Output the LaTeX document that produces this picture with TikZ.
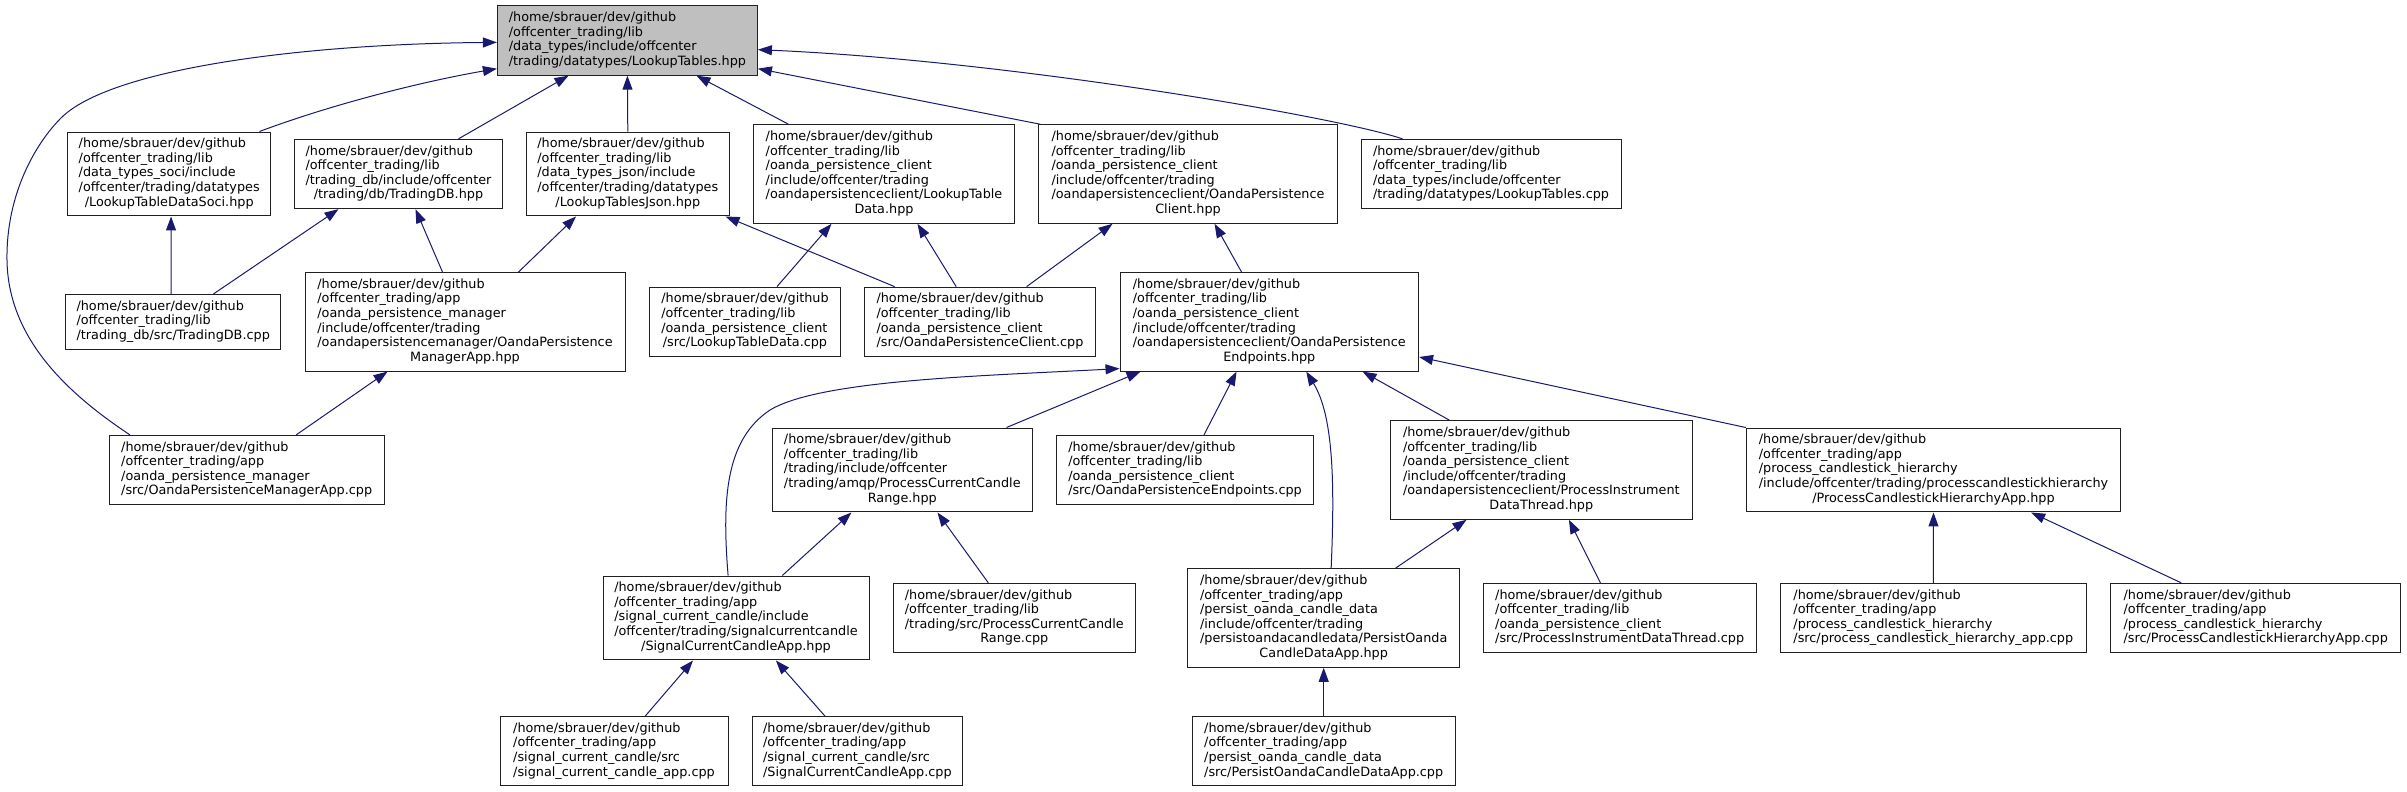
\documentclass[tikz,border=0pt]{standalone}
\usepackage{fontspec}
\setmainfont{DejaVu Sans}
\usetikzlibrary{arrows.meta}
\definecolor{edgeblue}{HTML}{191970}
\definecolor{rootgray}{HTML}{BFBFBF}
\definecolor{boxline}{HTML}{202020}
\newcommand{\ftxt}[2]{\begin{tabular}{@{}l@{}}#1\\\multicolumn{1}{@{}c@{}}{#2}\end{tabular}}
\tikzset{
  box/.style={draw=boxline, line width=1pt, fill=white, inner xsep=4pt, inner ysep=5.475pt,
    font=\fontsize{12.8}{14.6}\selectfont},
  rootbox/.style={box, fill=rootgray},
  edge/.style={draw=edgeblue, line width=1pt, -{Triangle[length=14pt,width=10pt]}}
}
\begin{document}
\begin{tikzpicture}[x=1pt,y=1pt]
\useasboundingbox (0,0) rectangle (2407,-792);
% rank 0
\node[rootbox, minimum width=260pt] (root) at (627.4,-40.5) {\ftxt{/home/sbrauer/dev/github\\/offcenter\_trading/lib\\/data\_types/include/offcenter}{/trading/datatypes/LookupTables.hpp}};
% rank 1
\node[box, minimum width=202.5pt] (A) at (169.2,-174) {\ftxt{/home/sbrauer/dev/github\\/offcenter\_trading/lib\\/data\_types\_soci/include\\/offcenter/trading/datatypes}{/LookupTableDataSoci.hpp}};
\node[box, minimum width=208.2pt] (B) at (398.5,-174) {\ftxt{/home/sbrauer/dev/github\\/offcenter\_trading/lib\\/trading\_db/include/offcenter}{/trading/db/TradingDB.hpp}};
\node[box, minimum width=202.5pt] (C) at (627.8,-174) {\ftxt{/home/sbrauer/dev/github\\/offcenter\_trading/lib\\/data\_types\_json/include\\/offcenter/trading/datatypes}{/LookupTablesJson.hpp}};
\node[box, minimum width=261.2pt] (D) at (884,-174) {\ftxt{/home/sbrauer/dev/github\\/offcenter\_trading/lib\\/oanda\_persistence\_client\\/include/offcenter/trading\\/oandapersistenceclient/LookupTable}{Data.hpp}};
\node[box, minimum width=298.5pt] (E) at (1188,-174) {\ftxt{/home/sbrauer/dev/github\\/offcenter\_trading/lib\\/oanda\_persistence\_client\\/include/offcenter/trading\\/oandapersistenceclient/OandaPersistence}{Client.hpp}};
\node[box, minimum width=260pt] (F) at (1491,-174) {\ftxt{/home/sbrauer/dev/github\\/offcenter\_trading/lib\\/data\_types/include/offcenter}{/trading/datatypes/LookupTables.cpp}};
% rank 2
\node[box, minimum width=214.8pt] (G) at (173.2,-321.8) {\ftxt{/home/sbrauer/dev/github\\/offcenter\_trading/lib}{/trading\_db/src/TradingDB.cpp}};
\node[box, minimum width=320pt] (H) at (465,-321.8) {\ftxt{/home/sbrauer/dev/github\\/offcenter\_trading/app\\/oanda\_persistence\_manager\\/include/offcenter/trading\\/oandapersistencemanager/OandaPersistence}{ManagerApp.hpp}};
\node[box, minimum width=191.1pt] (I) at (745,-321.8) {\ftxt{/home/sbrauer/dev/github\\/offcenter\_trading/lib\\/oanda\_persistence\_client}{/src/LookupTableData.cpp}};
\node[box, minimum width=230.2pt] (J) at (980,-321.8) {\ftxt{/home/sbrauer/dev/github\\/offcenter\_trading/lib\\/oanda\_persistence\_client}{/src/OandaPersistenceClient.cpp}};
\node[box, minimum width=298.5pt] (K) at (1269.3,-321.8) {\ftxt{/home/sbrauer/dev/github\\/offcenter\_trading/lib\\/oanda\_persistence\_client\\/include/offcenter/trading\\/oandapersistenceclient/OandaPersistence}{Endpoints.hpp}};
% rank 3
\node[box, minimum width=274.7pt] (L) at (246.7,-470) {\ftxt{/home/sbrauer/dev/github\\/offcenter\_trading/app\\/oanda\_persistence\_manager}{/src/OandaPersistenceManagerApp.cpp}};
\node[box, minimum width=260.1pt] (M) at (902.3,-470) {\ftxt{/home/sbrauer/dev/github\\/offcenter\_trading/lib\\/trading/include/offcenter\\/trading/amqp/ProcessCurrentCandle}{Range.hpp}};
\node[box, minimum width=257pt] (N) at (1185,-470) {\ftxt{/home/sbrauer/dev/github\\/offcenter\_trading/lib\\/oanda\_persistence\_client}{/src/OandaPersistenceEndpoints.cpp}};
\node[box, minimum width=302.6pt] (O) at (1541.3,-470) {\ftxt{/home/sbrauer/dev/github\\/offcenter\_trading/lib\\/oanda\_persistence\_client\\/include/offcenter/trading\\/oandapersistenceclient/ProcessInstrument}{DataThread.hpp}};
\node[box, minimum width=374.3pt] (P) at (1933.5,-470) {\ftxt{/home/sbrauer/dev/github\\/offcenter\_trading/app\\/process\_candlestick\_hierarchy\\/include/offcenter/trading/processcandlestickhierarchy}{/ProcessCandlestickHierarchyApp.hpp}};
% rank 4
\node[box, minimum width=266pt] (Q) at (736,-618) {\ftxt{/home/sbrauer/dev/github\\/offcenter\_trading/app\\/signal\_current\_candle/include\\/offcenter/trading/signalcurrentcandle}{/SignalCurrentCandleApp.hpp}};
\node[box, minimum width=242.4pt] (R) at (1014.3,-618) {\ftxt{/home/sbrauer/dev/github\\/offcenter\_trading/lib\\/trading/src/ProcessCurrentCandle}{Range.cpp}};
\node[box, minimum width=271.9pt] (S) at (1323.7,-618) {\ftxt{/home/sbrauer/dev/github\\/offcenter\_trading/app\\/persist\_oanda\_candle\_data\\/include/offcenter/trading\\/persistoandacandledata/PersistOanda}{CandleDataApp.hpp}};
\node[box, minimum width=272.9pt] (T) at (1619.7,-618) {\ftxt{/home/sbrauer/dev/github\\/offcenter\_trading/lib\\/oanda\_persistence\_client}{/src/ProcessInstrumentDataThread.cpp}};
\node[box, minimum width=306.6pt] (U) at (1933.3,-618) {\ftxt{/home/sbrauer/dev/github\\/offcenter\_trading/app\\/process\_candlestick\_hierarchy}{/src/process\_candlestick\_hierarchy\_app.cpp}};
\node[box, minimum width=289.8pt] (V) at (2255.7,-618) {\ftxt{/home/sbrauer/dev/github\\/offcenter\_trading/app\\/process\_candlestick\_hierarchy}{/src/ProcessCandlestickHierarchyApp.cpp}};
% rank 5
\node[box, minimum width=228pt] (W) at (614,-751.3) {\ftxt{/home/sbrauer/dev/github\\/offcenter\_trading/app\\/signal\_current\_candle/src}{/signal\_current\_candle\_app.cpp}};
\node[box, minimum width=210.4pt] (X) at (857.4,-751.3) {\ftxt{/home/sbrauer/dev/github\\/offcenter\_trading/app\\/signal\_current\_candle/src}{/SignalCurrentCandleApp.cpp}};
\node[box, minimum width=262.7pt] (Y) at (1323.7,-751.3) {\ftxt{/home/sbrauer/dev/github\\/offcenter\_trading/app\\/persist\_oanda\_candle\_data}{/src/PersistOandaCandleDataApp.cpp}};
% edges
\draw[edge] ([xshift=192pt]A.north west) .. controls (330,-105) and (420,-82) .. ([yshift=7pt]root.south west);
\draw[edge] ([xshift=164.6pt]B.north west) -- ([xshift=71.6pt]root.south west);
\draw[edge] (C.north) -- (root.south);
\draw[edge] ([xshift=35.6pt]D.north west) -- ([xshift=199.6pt]root.south west);
\draw[edge] ([xshift=2pt]E.north west) -- ([yshift=7pt]root.south east);
\draw[edge] ([xshift=42pt]F.north west) .. controls (1330,-115) and (1000,-60) .. ([yshift=26pt]root.south east);
\draw[edge] ([xshift=21pt]L.north west) .. controls (70,-395) and (8,-340) .. (7,-260) .. controls (6,-195) and (35,-144) .. (61,-118) .. controls (110,-69) and (300,-44) .. ([yshift=33.3pt]root.south west);
\draw[edge] ([xshift=105.7pt]G.north west) -- ([xshift=103.6pt]A.south west);
\draw[edge] ([xshift=148.2pt]G.north west) -- ([xshift=44.6pt]B.south west);
\draw[edge] ([xshift=138pt]H.north west) -- ([xshift=121.6pt]B.south west);
\draw[edge] ([xshift=214pt]H.north west) -- ([xshift=50pt]C.south west);
\draw[edge] ([xshift=30.2pt]J.north west) -- ([xshift=-4pt]C.south east);
\draw[edge] ([xshift=128pt]I.north west) -- ([xshift=78.6pt]D.south west);
\draw[edge] ([xshift=91.8pt]J.north west) -- ([xshift=164.6pt]D.south west);
\draw[edge] ([xshift=162.2pt]J.north west) -- ([xshift=74.3pt]E.south west);
\draw[edge] ([xshift=122pt]K.north west) -- ([xshift=176.3pt]E.south west);
\draw[edge] ([xshift=187.4pt]L.north west) -- ([xshift=83pt]H.south west);
\draw[edge] ([xshift=125.6pt]Q.north west) .. controls (722,-500) and (725,-440) .. (770,-410) .. controls (820,-380) and (980,-376) .. ([yshift=3pt]K.south west);
\draw[edge] ([xshift=234.7pt]M.north west) -- ([xshift=21pt]K.south west);
\draw[edge] ([xshift=148pt]N.north west) -- ([xshift=117pt]K.south west);
\draw[edge] ([xshift=143.9pt]S.north west) .. controls (1335,-480) and (1333,-415) .. ([xshift=186.7pt]K.south west);
\draw[edge] ([xshift=60pt]O.north west) -- ([xshift=243pt]K.south west);
\draw[edge] (P.north west) -- ([yshift=14.6pt]K.south east);
\draw[edge] ([xshift=179.8pt]Q.north west) -- ([xshift=79.7pt]M.south west);
\draw[edge] ([xshift=95.7pt]R.north west) -- ([xshift=165.7pt]M.south west);
\draw[edge] ([xshift=208.2pt]S.north west) -- ([xshift=77pt]O.south west);
\draw[edge] ([xshift=117.7pt]T.north west) -- ([xshift=179.4pt]O.south west);
\draw[edge] (U.north) -- (P.south);
\draw[edge] ([xshift=70.9pt]V.north west) -- ([xshift=285.3pt]P.south west);
\draw[edge] ([xshift=145.7pt]W.north west) -- ([xshift=90.5pt]Q.south west);
\draw[edge] ([xshift=73.3pt]X.north west) -- ([xshift=173.4pt]Q.south west);
\draw[edge] (Y.north) -- (S.south);
\end{tikzpicture}
\end{document}
